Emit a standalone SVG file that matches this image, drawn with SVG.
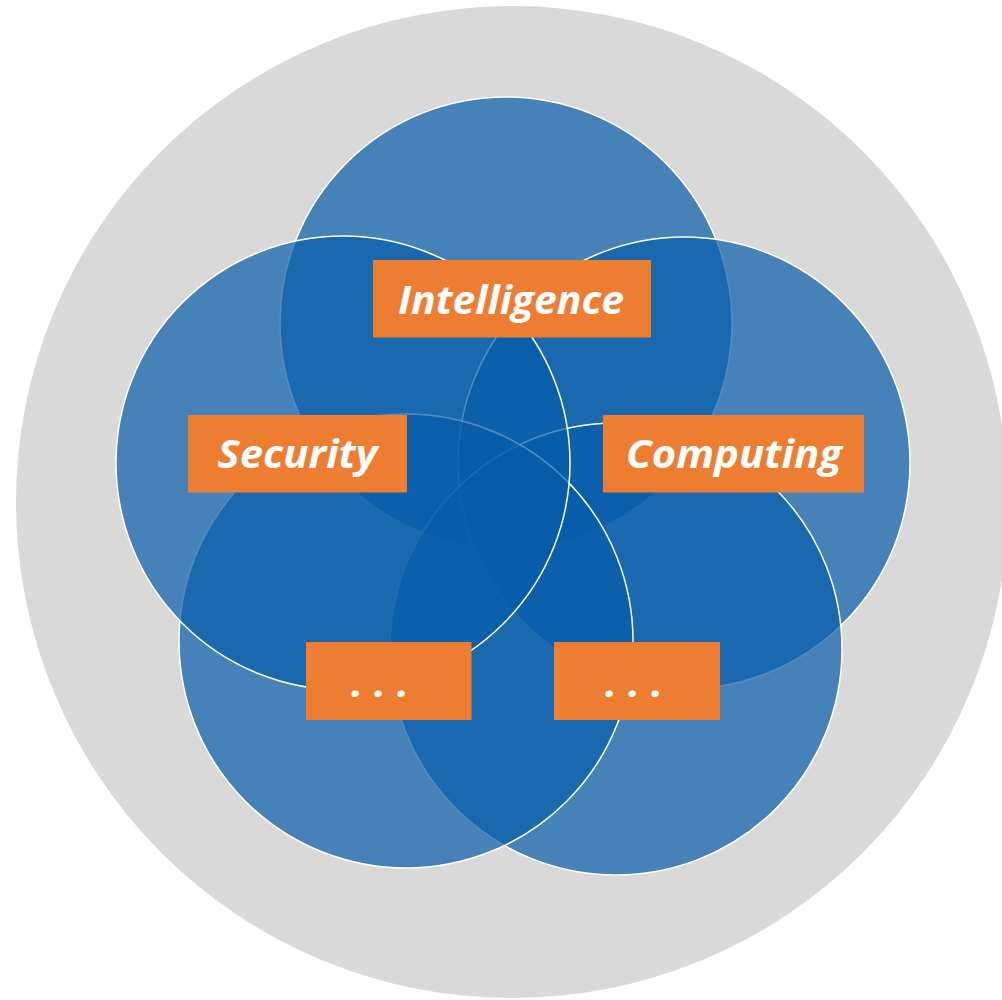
<svg xmlns="http://www.w3.org/2000/svg" width="1002" height="1000" viewBox="0 0 1002 1000">
<style>
.c{fill:#075DAA;fill-opacity:0.7;stroke:#ffffff;stroke-width:1.5}
.b{fill:#ED7D31}
.t{fill:#ffffff;font-family:"Open Sans","Liberation Sans",sans-serif;font-weight:bold;font-style:italic;font-size:40px;text-anchor:middle}
.d{fill:#ffffff;font-family:"Open Sans","Liberation Sans",sans-serif;font-weight:bold;font-style:italic;font-size:40px}
</style>
<rect width="1002" height="1000" fill="#ffffff"/>
<circle id="outer" cx="512" cy="502" r="496" fill="#D9D9D9"/>
<g id="circles">
<circle id="c-top" class="c" cx="506" cy="323" r="226"/>
<circle id="c-right" class="c" cx="684" cy="463" r="226"/>
<circle id="c-botright" class="c" cx="616" cy="649" r="226"/>
<circle id="c-botleft" class="c" cx="406" cy="641" r="227"/>
<circle id="c-left" class="c" cx="343" cy="463" r="227"/>
</g>
<g id="intelligence">
<rect class="b" x="373" y="260" width="278" height="77.5"/>
<text class="t" x="511" y="314" textLength="226" lengthAdjust="spacingAndGlyphs">Intelligence</text>
</g>
<g id="security">
<rect class="b" x="188" y="415" width="219" height="77.5"/>
<text class="t" x="297.5" y="468" textLength="160" lengthAdjust="spacingAndGlyphs">Security</text>
</g>
<g id="computing">
<rect class="b" x="603" y="415" width="261" height="77.5"/>
<text class="t" x="734" y="468" textLength="216" lengthAdjust="spacingAndGlyphs">Computing</text>
</g>
<g id="more1">
<rect class="b" x="306" y="642" width="165.5" height="78"/>
<text class="d" x="351" y="697" textLength="58" lengthAdjust="spacingAndGlyphs">. . .</text>
</g>
<g id="more2">
<rect class="b" x="554" y="642" width="166" height="78"/>
<text class="d" x="605" y="697" textLength="58" lengthAdjust="spacingAndGlyphs">. . .</text>
</g>
</svg>
